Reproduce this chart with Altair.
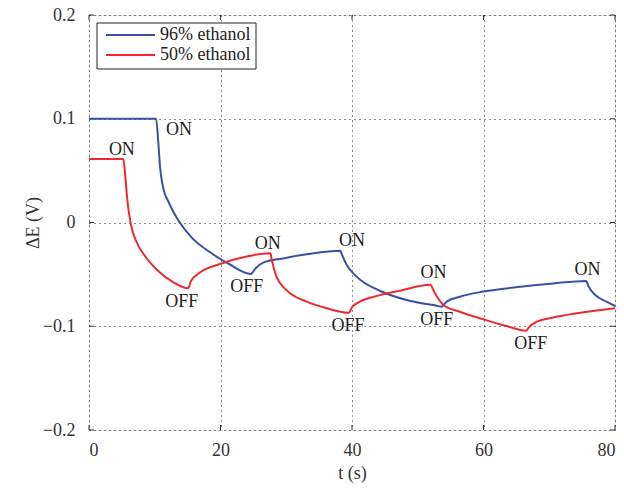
import altair as alt
import pandas as pd

# ---- data ----
t_96 = [0, 10.2, 10.55, 10.8, 11.25, 12.2, 13.7, 15.7, 18.25, 21.3, 24.6,
        25.35, 26.5, 29.5, 33.1, 38.2, 38.4, 39.2, 40.7, 44.3, 48.3, 52.9,
        53.6, 54.4, 56.4, 60.0, 65.6, 70.6, 75.6, 76.0, 77.0, 78.7, 80.0]
v_96 = [0.1, 0.1, 0.0763, 0.0538, 0.0345, 0.0185, 0.001, -0.015, -0.028, -0.040, -0.0496,
        -0.0441, -0.0387, -0.0346, -0.0307, -0.0272, -0.030, -0.041, -0.0522, -0.066, -0.0747, -0.0803,
        -0.0811, -0.0763, -0.0715, -0.0666, -0.0619, -0.0587, -0.0564, -0.0619, -0.0699, -0.0763, -0.0805]

t_50 = [0, 5.22, 5.48, 5.83, 6.34, 7.1, 8.6, 10.65, 12.67, 15.1, 15.46, 16.7, 20.3,
        23.8, 27.6, 27.8, 28.5, 30.0, 33.1, 36.2, 39.5, 40.0, 41.2, 44.3, 47.3,
        51.9, 52.6, 53.9, 56.4, 60.0, 63.5, 66.5, 66.9, 68.1, 70.6, 74.2, 80.0]
v_50 = [0.0612, 0.0612, 0.0474, 0.0217, -0.0008, -0.0169, -0.033, -0.0474, -0.057, -0.0634, -0.057, -0.049, -0.0393,
        -0.033, -0.0297, -0.036, -0.052, -0.065, -0.0763, -0.0827, -0.087, -0.0817, -0.0763, -0.070, -0.0657,
        -0.060, -0.0683, -0.0795, -0.086, -0.0933, -0.0998, -0.1043, -0.101, -0.0956, -0.0916, -0.0875, -0.0827]

series_names = ["96% ethanol", "50% ethanol"]
series_colors = ["#3b4fa6", "#ee2a30"]

label_t = [13.7, 5.0, 14.1, 24.0, 27.2, 40.0, 39.4, 52.4, 52.9, 67.2, 75.8]
label_v = [0.089, 0.070, -0.077, -0.062, -0.0207, -0.0178, -0.100, -0.049, -0.094, -0.117, -0.0458]
label_text = ["ON", "ON", "OFF", "OFF", "ON", "ON", "OFF", "ON", "OFF", "OFF", "ON"]

x_ticks = [0, 20, 40, 60, 80]
y_ticks = [-0.2, -0.1, 0, 0.1, 0.2]

# ---- tables ----
df = pd.concat([
    pd.DataFrame({"t": t_96, "v": v_96, "s": series_names[0]}),
    pd.DataFrame({"t": t_50, "v": v_50, "s": series_names[1]}),
])
df["o"] = range(len(df))
lab = pd.DataFrame({"t": label_t, "v": label_v, "txt": label_text})
xt = pd.DataFrame({"t": x_ticks})
yt = pd.DataFrame({"v": y_ticks})
leg = pd.DataFrame({"s": series_names, "row": [0, 1]})

W, H = 526, 415
FONT = "Liberation Serif"
FS = 18

xscale = alt.Scale(domain=[0, 80], nice=False, zero=False)
yscale = alt.Scale(domain=[-0.2, 0.2], nice=False, zero=False)
cscale = alt.Scale(domain=series_names, range=series_colors)

lines = alt.Chart(df).mark_line(strokeWidth=2, interpolate="monotone").encode(
    x=alt.X("t:Q", scale=xscale,
            axis=alt.Axis(values=x_ticks, title="t (s)", grid=True, gridColor="#000",
                          gridDash=[1, 4], gridOpacity=0.9, domain=False, ticks=False,
                          labelPadding=11, labelFont=FONT, labelFontSize=FS, labelColor="#333",
                          titleFont=FONT, titleFontSize=FS, titleFontWeight="normal",
                          titleColor="#333", titleY=43, titleBaseline="middle")),
    y=alt.Y("v:Q", scale=yscale,
            axis=alt.Axis(values=y_ticks, format=".1~f", title="ΔE  (V)", grid=True,
                          gridColor="#000", gridDash=[1, 4], gridOpacity=0.9, domain=False,
                          ticks=False, labelPadding=14, labelFont=FONT, labelFontSize=FS,
                          labelColor="#333", titleFont=FONT, titleFontSize=FS,
                          titleFontWeight="normal", titleColor="#333", titleX=-56,
                          titleY=H / 2, titleAngle=270, titleAlign="center",
                          titleBaseline="middle")),
    color=alt.Color("s:N", scale=cscale, legend=None),
    order="o:Q",
)

texts = alt.Chart(lab).mark_text(font=FONT, fontSize=FS, color="#222").encode(
    x=alt.X("t:Q", scale=xscale), y=alt.Y("v:Q", scale=yscale), text="txt:N")

tick_style = dict(color="#333", strokeWidth=1)
xb = alt.Chart(xt).mark_rule(**tick_style).encode(x=alt.X("t:Q", scale=xscale), y=alt.value(H - 5), y2=alt.value(H))
xtp = alt.Chart(xt).mark_rule(**tick_style).encode(x=alt.X("t:Q", scale=xscale), y=alt.value(0), y2=alt.value(5))
yl = alt.Chart(yt).mark_rule(**tick_style).encode(y=alt.Y("v:Q", scale=yscale), x=alt.value(0), x2=alt.value(5))
yr = alt.Chart(yt).mark_rule(**tick_style).encode(y=alt.Y("v:Q", scale=yscale), x=alt.value(W - 5), x2=alt.value(W))

# ---- manual legend box (layout in pixels) ----
leg_box = alt.Chart(leg).transform_filter("datum.row == 0").mark_rect(
    fill="white", stroke="#222", strokeWidth=1).encode(
    x=alt.value(8), x2=alt.value(167), y=alt.value(8), y2=alt.value(54))
leg_line = alt.Chart(leg).transform_calculate(py="20 + 20 * datum.row").mark_rule(strokeWidth=2).encode(
    x=alt.value(17), x2=alt.value(66),
    y=alt.Y("py:Q", scale=None),
    color=alt.Color("s:N", scale=cscale, legend=None))
leg_text = alt.Chart(leg).transform_calculate(py="20 + 20 * datum.row").mark_text(
    font=FONT, fontSize=FS, color="#222", align="left", baseline="middle").encode(
    x=alt.value(71), y=alt.Y("py:Q", scale=None), text="s:N")

chart = alt.layer(xb, xtp, yl, yr, lines, texts, leg_box, leg_line, leg_text).properties(
    width=W, height=H,
    autosize=alt.AutoSizeParams(type="none"),
    padding={"left": 89, "top": 15, "right": 9, "bottom": 58},
).configure_view(stroke="#666", strokeWidth=1.5).configure(
    background="white", font=FONT
).configure_axis(labelFont=FONT, titleFont=FONT).configure_text(font=FONT)

chart.save("out.html", embed_options={"renderer": "svg", "actions": False})
